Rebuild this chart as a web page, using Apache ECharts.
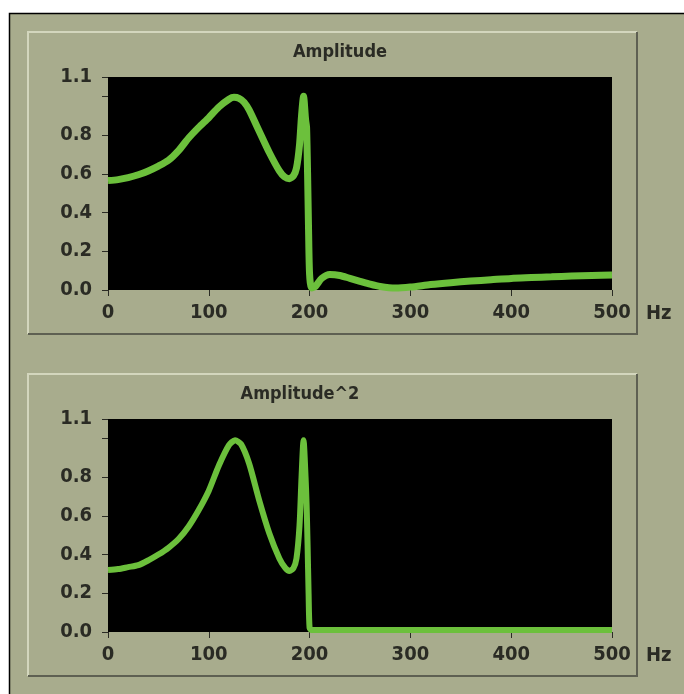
<!DOCTYPE html>
<html>
<head>
<meta charset="utf-8">
<script src="https://cdn.jsdelivr.net/npm/echarts@6/dist/echarts.min.js"></script>
<style>
  html, body { margin: 0; padding: 0; background: #fff; }
  #chart { width: 684px; height: 694px; }
</style>
</head>
<body>
<div id="chart"></div>
<script>
// values
var ampHz = [0, 10, 20, 30, 40, 50, 60, 70, 80, 90, 100, 110, 120, 125, 130, 135, 140, 150, 160, 170, 175, 180, 184, 187, 190, 192, 194, 196, 197, 198, 199, 200, 202, 206, 212, 220, 230, 240, 250, 260, 270, 285, 300, 320, 340, 360, 380, 400, 420, 440, 460, 480, 500];
var ampVals = [0.565, 0.57, 0.58, 0.595, 0.615, 0.64, 0.67, 0.72, 0.785, 0.84, 0.89, 0.945, 0.985, 0.995, 0.99, 0.97, 0.93, 0.82, 0.71, 0.615, 0.585, 0.575, 0.59, 0.63, 0.75, 0.9, 1.0, 0.88, 0.84, 0.6, 0.3, 0.08, 0.01, 0.02, 0.06, 0.08, 0.075, 0.06, 0.045, 0.03, 0.018, 0.01, 0.015, 0.028, 0.038, 0.046, 0.053, 0.06, 0.064, 0.068, 0.072, 0.075, 0.077];

var sqHz = [0, 10, 20, 30, 40, 50, 60, 70, 80, 90, 100, 110, 120, 126, 132, 140, 150, 160, 170, 176, 180, 184, 187, 190, 192, 194, 196, 197, 198, 199, 200, 202, 210, 300, 400, 500];
var sqVals = [0.32, 0.325, 0.335, 0.345, 0.37, 0.4, 0.435, 0.48, 0.545, 0.63, 0.73, 0.86, 0.965, 0.99, 0.97, 0.87, 0.68, 0.51, 0.38, 0.33, 0.315, 0.33, 0.38, 0.55, 0.8, 0.99, 0.8, 0.66, 0.45, 0.2, 0.02, 0.01, 0.01, 0.01, 0.01, 0.01];

var titles = ['Amplitude', 'Amplitude^2'];
var unit = 'Hz';

function pairs(xs, ys) {
    var out = [];
    for (var i = 0; i < xs.length; i++) out.push([xs[i], ys[i]]);
    return out;
}

var font = "'DejaVu Sans Condensed', 'Liberation Sans Narrow', sans-serif";
var ink = '#2a2b24';
var green = '#6cc03c';

function xAxisFor(idx) {
    return {
        type: 'value', gridIndex: idx, min: 0, max: 500, interval: 100,
        splitLine: { show: false },
        axisLine: { show: false },
        axisTick: { show: true, length: 6, lineStyle: { color: ink, width: 1 } },
        axisLabel: { color: ink, fontFamily: font, fontWeight: 'bold', fontSize: 20, margin: 13 },
        name: unit, nameLocation: 'end', nameGap: 34,
        nameTextStyle: { color: ink, fontFamily: font, fontWeight: 'bold', fontSize: 20, verticalAlign: 'top', align: 'left', padding: [14, 0, 0, 0] }
    };
}

function yAxisFor(idx) {
    return {
        type: 'value', gridIndex: idx, min: 0, max: 1.1, interval: 0.2,
        splitLine: { show: false },
        axisLine: { show: false },
        axisTick: { show: true, length: 6, lineStyle: { color: ink, width: 1 } },
        axisLabel: {
            color: ink, fontFamily: font, fontWeight: 'bold', fontSize: 20, margin: 16,
            formatter: function (v) {
                if (Math.abs(v - 1.0) < 1e-6) return '';
                return v.toFixed(1);
            }
        }
    };
}

var bg = '#a8ac8d';
var hi = '#d3d6bd';
var lo = '#5e6052';

function frame(x1, y1, x2, y2) {
    return [
        { type: 'polyline', silent: true, shape: { points: [[x1, y2], [x1, y1], [x2, y1]] }, style: { stroke: hi, lineWidth: 2, fill: null } },
        { type: 'polyline', silent: true, shape: { points: [[x2, y1], [x2, y2], [x1, y2]] }, style: { stroke: lo, lineWidth: 2, fill: null } }
    ];
}

var chart = echarts.init(document.getElementById('chart'));
var option = {
    backgroundColor: bg,
    animation: false,
    title: [
        { text: titles[0], left: 340, top: 43, textAlign: 'center', padding: 0,
          textStyle: { color: ink, fontFamily: font, fontWeight: 'bold', fontSize: 18 } },
        { text: titles[1], left: 300, top: 385, textAlign: 'center', padding: 0,
          textStyle: { color: ink, fontFamily: font, fontWeight: 'bold', fontSize: 18 } }
    ],
    graphic: [
        { type: 'rect', silent: true, shape: { x: 0, y: 0, width: 684, height: 13 }, style: { fill: '#fff' } },
        { type: 'rect', silent: true, shape: { x: 0, y: 0, width: 9, height: 694 }, style: { fill: '#fff' } },
        { type: 'polyline', silent: true, shape: { points: [[9.5, 694], [9.5, 13.5], [684, 13.5]] }, style: { stroke: '#000', lineWidth: 1.5, fill: null } }
    ].concat(frame(28, 32, 637, 334)).concat(frame(28, 374, 637, 676)),
    grid: [
        { left: 108, top: 77, width: 504, height: 213, show: true, backgroundColor: '#000', borderWidth: 0 },
        { left: 108, top: 419, width: 504, height: 213, show: true, backgroundColor: '#000', borderWidth: 0 }
    ],
    xAxis: [xAxisFor(0), xAxisFor(1)],
    yAxis: [yAxisFor(0), yAxisFor(1)],
    series: [
        { name: titles[0], type: 'line', xAxisIndex: 0, yAxisIndex: 0, showSymbol: false, smooth: 0.25,
          data: pairs(ampHz, ampVals), lineStyle: { color: green, width: 7 }, clip: true },
        { name: titles[1], type: 'line', xAxisIndex: 1, yAxisIndex: 1, showSymbol: false, smooth: 0.25,
          data: pairs(sqHz, sqVals), lineStyle: { color: green, width: 6 }, clip: true }
    ]
};
chart.setOption(option);
</script>
</body>
</html>
